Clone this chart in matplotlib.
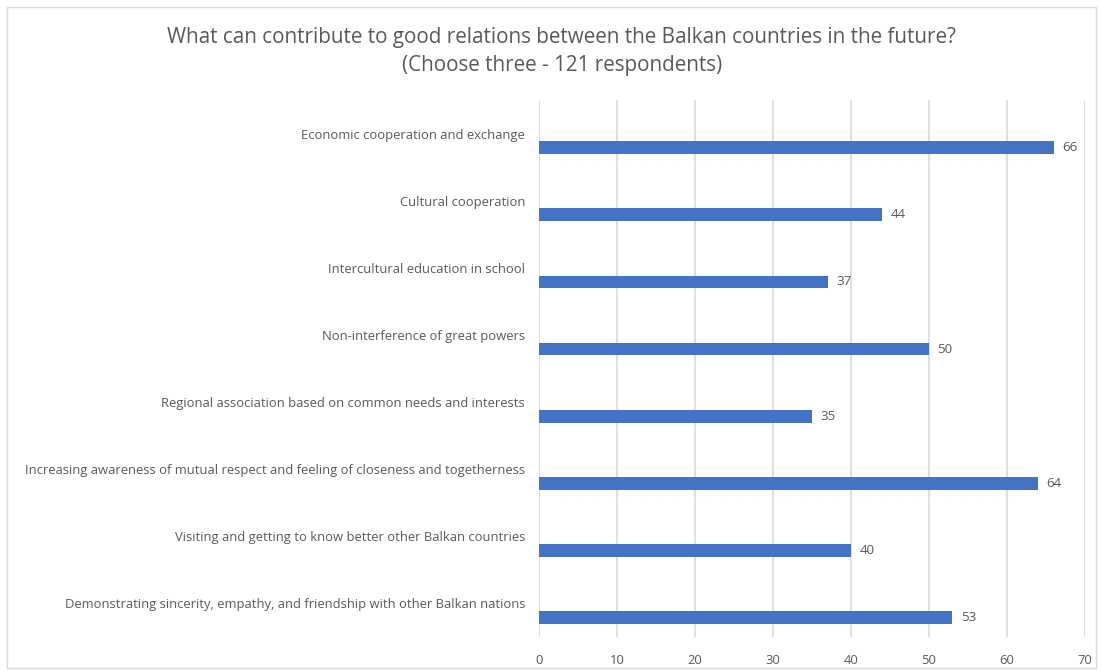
import matplotlib.pyplot as plt
from matplotlib.patches import Rectangle

plt.rcParams["font.family"] = ["Open Sans", "DejaVu Sans"]

# survey answers, top to bottom
categories = [
    "Economic cooperation and exchange",
    "Cultural cooperation",
    "Intercultural education in school",
    "Non-interference of great powers",
    "Regional association based on common needs and interests",
    "Increasing awareness of mutual respect and feeling of closeness and togetherness",
    "Visiting and getting to know better other Balkan countries",
    "Demonstrating sincerity, empathy, and friendship with other Balkan nations",
]
counts = [66, 44, 37, 50, 35, 64, 40, 53]
x_ticks = [0, 10, 20, 30, 40, 50, 60, 70]

TEXT = "#595959"
GRID = "#D9D9D9"
BAR = "#4472C4"

fig = plt.figure(figsize=(11.03, 6.71), dpi=100)
ax = fig.add_axes([0.4887, 0.0507, 0.4950, 0.8003])

pos = list(range(len(categories)))
bar_pos = [p + 0.21 for p in pos]
ax.barh(bar_pos, counts, height=0.19, color=BAR, zorder=3)

for y, v in zip(bar_pos, counts):
    ax.annotate(str(v), (v, y), xytext=(6, 0), textcoords="offset points",
                va="center", ha="left", color=TEXT, fontsize=9.6)

ax.set_xlim(0, 70)
ax.set_ylim(len(categories) - 0.5, -0.5)
ax.set_xticks(x_ticks)
ax.set_yticks(pos)
ax.set_yticklabels(categories)
ax.tick_params(axis="both", length=0, colors=TEXT, labelsize=9.4)
ax.tick_params(axis="y", pad=10)
ax.tick_params(axis="x", pad=12)
ax.xaxis.grid(True, color=GRID, linewidth=1.2, zorder=0)
for s in ax.spines.values():
    s.set_visible(False)

fig.text(0.5095, 0.923,
         "What can contribute to good relations between the Balkan countries in the future?\n"
         "(Choose three - 121 respondents)",
         ha="center", va="center", fontsize=14.9, color=TEXT, linespacing=1.45)

# light frame round the whole chart
fig.patches.append(Rectangle((0.006, 0.004), 0.988, 0.986, transform=fig.transFigure,
                             fill=False, edgecolor=GRID, linewidth=1))

fig.savefig("out.png", dpi=100)
